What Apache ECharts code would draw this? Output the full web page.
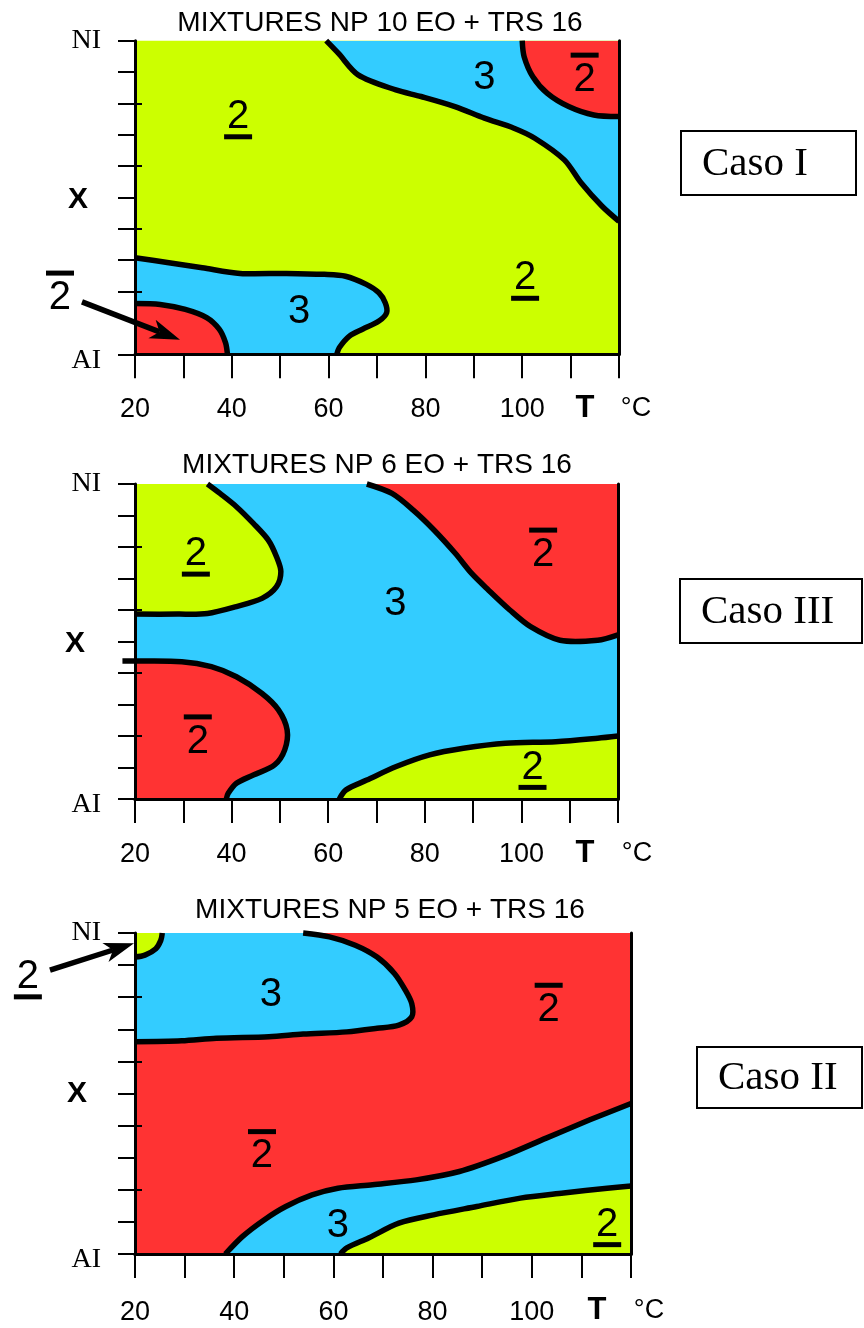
<!DOCTYPE html>
<html>
<head>
<meta charset="utf-8">
<script src="https://cdn.jsdelivr.net/npm/echarts@6/dist/echarts.min.js"></script>
<style>html,body{margin:0;padding:0;background:#fff}#c{width:864px;height:1328px}</style>
</head>
<body>
<div id="c"></div>
<script>
// ---------- data (T in °C, X from AI = 0 to NI = 1) ----------
const T_RANGE = [20, 120];
const X_RANGE = [0, 1];
const xLabelValues = [20, 40, 60, 80, 100];
const longTicks = [0.2, 0.4, 0.6, 0.8];
const p1_yTicks = [0, 0.2, 0.3, 0.4, 0.5, 0.6, 0.7, 0.8, 0.9, 1];
const p2_yTicks = [0, 0.1, 0.2, 0.3, 0.4, 0.5, 0.6, 0.7, 0.8, 0.9, 1];
const p3_yTicks = [0, 0.1, 0.2, 0.3, 0.4, 0.5, 0.6, 0.7, 0.8, 0.9, 1];

const titles = ['MIXTURES NP 10 EO + TRS 16', 'MIXTURES NP 6 EO + TRS 16', 'MIXTURES NP 5 EO + TRS 16'];
const casos = ['Caso I', 'Caso III', 'Caso II'];

// Panel 1 boundaries
const p1_curveA = [[59.5,1],[62.0,0.96],[66.1,0.891],[73.9,0.843],[79.1,0.822],[86.1,0.790],[92.2,0.753],[98.3,0.721],[102.6,0.689],[108.7,0.620],[112.2,0.546],[116.5,0.472],[120,0.424]];
const p1_curveB = [[100,1],[100.4,0.949],[102.2,0.885],[105.2,0.832],[109.6,0.790],[114.8,0.763],[120,0.758]];
const p1_curveC = [[20,0.308],[27,0.292],[33.9,0.276],[41.7,0.258],[51.3,0.258],[59.1,0.255],[63.5,0.249],[67.8,0.223],[70.4,0.196],[71.7,0.164],[72,0.133],[70.4,0.106],[67,0.080],[64.3,0.058],[62.2,0.021],[61.7,0]];
const p1_curveD = [[20,0.162],[25.2,0.159],[30.4,0.143],[34.8,0.117],[37.4,0.080],[38.7,0.037],[39.1,0]];
const p1_labels = [[41.3,0.76,'2','under'],[92.2,0.883,'3',''],[112.9,0.878,'2','over'],[53.9,0.138,'3',''],[100.6,0.245,'2','under'],[4.5,0.183,'2','over']];
const p1_arrow = [[9.05,0.167],[29.3,0.046]];

// Panel 2 boundaries
const p2_curveE = [[35,1],[37.6,0.970],[41.0,0.928],[44.5,0.875],[47.6,0.822],[49.3,0.769],[50.2,0.722],[49.3,0.674],[46.3,0.637],[41.0,0.611],[35.0,0.589],[28.9,0.587],[20,0.587]];
const p2_curveF = [[68,1],[73.2,0.970],[77.6,0.917],[81.9,0.854],[86.3,0.780],[89.7,0.716],[93.2,0.663],[97.6,0.600],[101.9,0.547],[108,0.504],[115.8,0.504],[120,0.521]];
const p2_curveG = [[17.4,0.438],[20,0.438],[29.7,0.436],[35.8,0.420],[41.0,0.388],[46.3,0.335],[49.7,0.283],[51.5,0.219],[51.0,0.156],[48.9,0.108],[44.5,0.076],[41.0,0.050],[39.3,0.018],[38.9,0]];
const p2_curveH = [[62.3,0],[63.7,0.029],[68.0,0.060],[74.1,0.103],[81.0,0.140],[88.0,0.161],[96.7,0.177],[107.1,0.182],[115.8,0.193],[120,0.200]];
const p2_labels = [[32.6,0.780,'2','under'],[104.5,0.778,'2','over'],[73.9,0.621,'3',''],[33.0,0.185,'2','over'],[102.3,0.103,'2','under']];
const p2_arrow = [];

// Panel 3 boundaries
const p3_curveI = [[20,0.925],[22.0,0.931],[24.2,0.951],[25.2,0.977],[25.5,1]];
const p3_curveJ = [[53.9,1],[59.2,0.988],[64.4,0.962],[68.8,0.925],[72.3,0.874],[74.5,0.822],[75.8,0.780],[75.8,0.739],[73.2,0.713],[68.8,0.703],[62.7,0.692],[53.9,0.685],[47.0,0.677],[36.4,0.672],[29.4,0.664],[20,0.661]];
const p3_curveK = [[38.2,0],[41.7,0.055],[46.1,0.107],[50.4,0.148],[55.7,0.184],[60.9,0.205],[67.9,0.216],[76.7,0.231],[85.4,0.257],[94.2,0.304],[102.9,0.361],[111.7,0.418],[120,0.469]];
const p3_curveL = [[61.4,0],[62.7,0.019],[67.1,0.050],[73.2,0.096],[80.2,0.122],[88.9,0.148],[97.7,0.174],[106.4,0.190],[115.2,0.205],[120,0.212]];
const p3_labels = [[47.4,0.809,'3',''],[103.4,0.763,'2','over'],[45.6,0.307,'2','over'],[60.9,0.089,'3',''],[115.2,0.094,'2','under'],[-1.6,0.866,'2','under']];
const p3_arrow = [[2.86,0.884],[19.8,0.968]];

// ---------- styles ----------
const GREEN = '#CCFF00', BLUE = '#33CCFF', RED = '#FF3333';
const SANS = '"Liberation Sans", Arial, sans-serif';
const SERIF = '"Liberation Serif", "Times New Roman", serif';

const panels = [
  { base: GREEN, grid: {left:135, top:40.7, width:484, height:313.6}, yTicks: p1_yTicks, labelMargin: 42,
    regions: [[p1_curveA,[[120,1]],BLUE],[p1_curveB,[[120,1]],RED],[p1_curveC,[[20,0]],BLUE],[p1_curveD,[[20,0]],RED]],
    curves: [p1_curveA,p1_curveB,p1_curveC,p1_curveD], labels: p1_labels, arrow: p1_arrow },
  { base: BLUE, grid: {left:135, top:484, width:483, height:315}, yTicks: p2_yTicks, labelMargin: 42,
    regions: [[p2_curveE,[[20,1]],GREEN],[p2_curveF,[[120,1]],RED],[p2_curveG,[[20,0]],RED],[p2_curveH,[[120,0]],GREEN]],
    curves: [p2_curveE,p2_curveF,p2_curveG,p2_curveH], labels: p2_labels, arrow: p2_arrow },
  { base: RED, grid: {left:135, top:933, width:496, height:321}, yTicks: p3_yTicks, labelMargin: 45,
    regions: [[p3_curveJ,[[20,1]],BLUE],[p3_curveI,[[20,1]],GREEN],[p3_curveK,[[120,0]],BLUE],[p3_curveL,[[120,0]],GREEN]],
    curves: [p3_curveI,p3_curveJ,p3_curveK,p3_curveL], labels: p3_labels, arrow: p3_arrow }
];

const grids = [], xAxes = [], yAxes = [], series = [];
panels.forEach((p, i) => {
  grids.push(Object.assign({show: true, backgroundColor: p.base, borderWidth: 0}, p.grid));
  xAxes.push({
    gridIndex: i, type: 'value', position: 'bottom', min: T_RANGE[0], max: T_RANGE[1], interval: 10, z: 10,
    axisLine: {lineStyle: {color: '#000', width: 3}},
    axisTick: {length: 24, lineStyle: {color: '#000', width: 2}},
    axisLabel: {customValues: xLabelValues, fontSize: 27, fontFamily: SANS, color: '#000', margin: p.labelMargin},
    splitLine: {show: false}
  });
  xAxes.push({
    gridIndex: i, type: 'value', position: 'top', min: T_RANGE[0], max: T_RANGE[1], z: 10,
    axisLine: {lineStyle: {color: '#000', width: 3}}, axisTick: {show: false}, axisLabel: {show: false}, splitLine: {show: false}
  });
  yAxes.push({
    gridIndex: i, type: 'value', position: 'left', offset: 0, min: X_RANGE[0], max: X_RANGE[1], interval: 0.1, z: 10,
    axisLine: {lineStyle: {color: '#000', width: 3}},
    axisTick: {customValues: p.yTicks, length: 17, lineStyle: {color: '#000', width: 2}},
    axisLabel: {
      customValues: [0, 1], margin: 34,
      formatter: v => v >= 0.5 ? '{n|NI}' : '{a|AI}',
      rich: {n: {fontFamily: SERIF, fontSize: 28, color: '#000'}, a: {fontFamily: SERIF, fontSize: 28, color: '#000', padding: [12, 0, 0, 0]}}
    },
    splitLine: {show: false}
  });
  yAxes.push({
    gridIndex: i, type: 'value', position: 'left', offset: 0, min: X_RANGE[0], max: X_RANGE[1], z: 10,
    axisLine: {show: false},
    axisTick: {inside: true, customValues: longTicks, length: 7, lineStyle: {color: '#000', width: 2}},
    axisLabel: {show: false}, splitLine: {show: false}
  });
  yAxes.push({
    gridIndex: i, type: 'value', position: 'right', offset: 0, min: X_RANGE[0], max: X_RANGE[1], z: 10,
    axisLine: {lineStyle: {color: '#000', width: 3}}, axisTick: {show: false}, axisLabel: {show: false}, splitLine: {show: false}
  });

  const xi = 2 * i, yi = 3 * i;
  series.push({
    type: 'custom', xAxisIndex: xi, yAxisIndex: yi, z: 2, clip: true, silent: true,
    data: p.regions.map(r => r[0][0]),
    renderItem: (params, api) => {
      const r = p.regions[params.dataIndex];
      const pts = r[0].map(q => api.coord([Math.max(T_RANGE[0], q[0]), q[1]])).concat(r[1].map(q => api.coord(q)));
      return {type: 'polygon', shape: {points: pts}, style: {fill: r[2]}};
    }
  });
  series.push({
    type: 'custom', xAxisIndex: xi, yAxisIndex: yi, z: 3, clip: false, silent: true,
    data: p.curves.map(c => c[0]),
    renderItem: (params, api) => {
      const c = p.curves[params.dataIndex];
      const pts = c.map(q => api.coord(q));
      return {type: 'polyline', shape: {points: pts, smooth: 0.3}, style: {stroke: '#000', lineWidth: 5.5, fill: null, lineJoin: 'round'}};
    }
  });
  const FS = 40, capH = FS * 0.716;
  series.push({
    type: 'custom', xAxisIndex: xi, yAxisIndex: yi, z: 4, clip: false, silent: true,
    data: p.labels.map(l => [l[0], l[1]]),
    renderItem: (params, api) => {
      const l = p.labels[params.dataIndex];
      const c = api.coord([l[0], l[1]]);
      const children = [{type: 'text', style: {text: l[2], x: c[0], y: c[1] + 1, fill: '#000', font: FS + 'px ' + SANS,
        align: 'center', verticalAlign: 'middle', textAlign: 'center', textVerticalAlign: 'middle'}}];
      if (l[3] === 'over') children.push({type: 'rect', shape: {x: c[0] - 14, y: c[1] - capH / 2 - 12, width: 28, height: 5}, style: {fill: '#000'}});
      if (l[3] === 'under') children.push({type: 'rect', shape: {x: c[0] - 14, y: c[1] + capH / 2 + 4, width: 28, height: 5}, style: {fill: '#000'}});
      return {type: 'group', children: children};
    }
  });
  if (p.arrow.length) {
    series.push({
      type: 'custom', xAxisIndex: xi, yAxisIndex: yi, z: 5, clip: false, silent: true,
      data: [p.arrow[0]],
      renderItem: (params, api) => {
        const s = api.coord(p.arrow[0]), e = api.coord(p.arrow[1]);
        const dx = e[0] - s[0], dy = e[1] - s[1], len = Math.hypot(dx, dy);
        const ux = dx / len, uy = dy / len, nx = -uy, ny = ux;
        const hl = 30, hw = 10;
        const bx = e[0] - ux * hl, by = e[1] - uy * hl;
        return {type: 'group', children: [
          {type: 'line', shape: {x1: s[0], y1: s[1], x2: bx + ux * 8, y2: by + uy * 8}, style: {stroke: '#000', lineWidth: 5.5}},
          {type: 'polygon', shape: {points: [[e[0], e[1]], [bx + nx * hw, by + ny * hw], [bx + ux * 8, by + uy * 8], [bx - nx * hw, by - ny * hw]]}, style: {fill: '#000'}}
        ]};
      }
    });
  }
});

// ---------- annotation texts ----------
const graphics = [];
function txt(text, x, y, font, align) {
  graphics.push({type: 'text', x: x, y: y, style: {text: text, font: font, fill: '#000', align: align || 'center', verticalAlign: 'middle', textAlign: align || 'center', textVerticalAlign: 'middle'}});
}
const titlePos = [[380, 23], [377, 465], [390, 910]];
titles.forEach((t, i) => txt(t, titlePos[i][0], titlePos[i][1], '28px ' + SANS));
const xLabPos = [[78, 200], [75, 644], [77, 1094]];
xLabPos.forEach(q => txt('X', q[0], q[1], 'bold 30px ' + SANS));
const tPos = [[585, 408, 636], [585, 853, 637], [597, 1310, 649]];
tPos.forEach(q => { txt('T', q[0], q[1], 'bold 31px ' + SANS); txt('°C', q[2], q[1] + 1, '27px ' + SANS); });
const casoBox = [[681, 131, 175, 64], [680, 579, 182, 64], [697, 1047, 165, 61]];
casoBox.forEach((b, i) => {
  graphics.push({type: 'rect', shape: {x: b[0], y: b[1], width: b[2], height: b[3]}, style: {fill: '#fff', stroke: '#000', lineWidth: 2}});
  txt(casos[i], b[0] + 21, b[1] + b[3] / 2 + 1, '41px ' + SERIF, 'left');
});

const chart = echarts.init(document.getElementById('c'), null, {renderer: 'canvas'});
chart.setOption({
  animation: false,
  grid: grids, xAxis: xAxes, yAxis: yAxes, series: series,
  graphic: {elements: graphics}
});
</script>
</body>
</html>
